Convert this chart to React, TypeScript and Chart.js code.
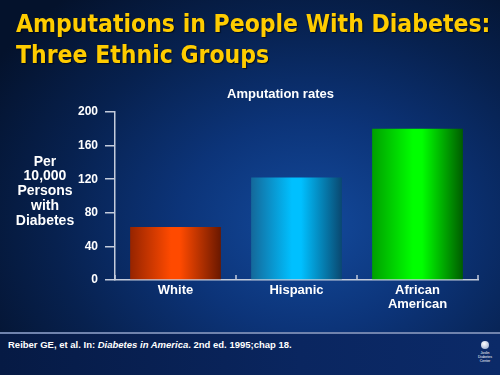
import React, { useEffect, useRef } from 'react';
import { Chart, registerables } from 'chart.js';

Chart.register(...registerables);

// ---- data ----
const categories: (string | string[])[] = ['White', 'Hispanic', ['African', 'American']];
const amputationRates = [63, 122, 180];
const yMin = 0;
const yMax = 200;
const yStep = 40;
const chartTitle = 'Amputation rates';
const slideTitle = ['Amputations in People With Diabetes:', 'Three Ethnic Groups'];
const yAxisTitle = ['Per', '10,000', 'Persons', 'with', 'Diabetes'];

// ---- styles ----
const barEdgeLeft = ['#962400', '#14689a', '#00a000'];
const barCenter = ['#ff4a00', '#00c0ff', '#00ff00'];
const barEdgeRight = ['#6a1800', '#0a4870', '#005c00'];
const axisColor = '#c4ccdc';
const FONT = '"Liberation Sans", Arial, sans-serif';

const gradientPlugin = {
  id: 'barGradient',
  beforeDatasetsDraw(chart: any) {
    const meta = chart.getDatasetMeta(0);
    const ctx = chart.ctx;
    meta.data.forEach((el: any, i: number) => {
      const w = el.width;
      const g = ctx.createLinearGradient(el.x - w / 2, 0, el.x + w / 2, 0);
      g.addColorStop(0, barEdgeLeft[i % 3]);
      g.addColorStop(0.45, barCenter[i % 3]);
      g.addColorStop(0.55, barCenter[i % 3]);
      g.addColorStop(1, barEdgeRight[i % 3]);
      el.options.backgroundColor = g;
    });
  },
};

const xTickPlugin = {
  id: 'xUpTicks',
  afterDraw(chart: any) {
    const { ctx, chartArea } = chart;
    const n = categories.length;
    ctx.save();
    ctx.strokeStyle = axisColor;
    ctx.lineWidth = 1.5;
    for (let i = 0; i <= n; i++) {
      const x = chartArea.left + (i * (chartArea.right - chartArea.left)) / n;
      ctx.beginPath();
      ctx.moveTo(x, chartArea.bottom - 5);
      ctx.lineTo(x, chartArea.bottom);
      ctx.stroke();
    }
    ctx.restore();
  },
};

function ChartCanvas() {
  const ref = useRef<HTMLCanvasElement | null>(null);
  useEffect(() => {
    if (!ref.current) return;
    const chart = new Chart(ref.current, {
      type: 'bar',
      data: {
        labels: categories as any,
        datasets: [
          {
            data: amputationRates,
            backgroundColor: barCenter,
            borderWidth: 0,
            barPercentage: 0.75,
            categoryPercentage: 1,
          },
        ],
      },
      plugins: [gradientPlugin, xTickPlugin],
      options: {
        responsive: false,
        animation: false,
        layout: { padding: { top: 112, right: 22, left: 0, bottom: 0 } },
        plugins: {
          legend: { display: false },
          tooltip: { enabled: false },
          title: { display: false },
        },
        scales: {
          x: {
            grid: { display: false, drawTicks: false, tickLength: 0 },
            border: { display: true, color: axisColor, width: 1.5 },
            ticks: {
              color: '#ffffff',
              padding: 3,
              font: { family: FONT, size: 13, weight: 'bold', lineHeight: 1.08 },
              maxRotation: 0,
            },
            afterFit(scale: any) {
              scale.height = 95;
            },
          },
          y: {
            min: yMin,
            max: yMax,
            ticks: {
              stepSize: yStep,
              color: '#ffffff',
              padding: 7,
              font: { family: FONT, size: 12, weight: 'bold' },
            },
            grid: {
              drawOnChartArea: false,
              drawTicks: true,
              tickLength: 10,
              color: axisColor,
              lineWidth: 1.5,
            },
            border: { display: true, color: axisColor, width: 1.5 },
            afterFit(scale: any) {
              scale.width = 115;
            },
          },
        },
      } as any,
    });
    return () => chart.destroy();
  }, []);
  return (
    <canvas
      ref={ref}
      width={500}
      height={375}
      style={{ position: 'absolute', left: 0, top: 0, width: 500, height: 375 }}
    />
  );
}

export default function App() {
  return (
    <div
      style={{
        position: 'fixed',
        left: 0,
        top: 0,
        width: 500,
        height: 375,
        overflow: 'hidden',
        background:
          'radial-gradient(ellipse 75% 80% at 62% 60%, #134a9c 0%, #0c3479 35%, #07214f 68%, #04122c 100%)',
        fontFamily: FONT,
      }}
    >
      <div
        style={{
          position: 'absolute',
          left: 16,
          top: 8,
          color: '#ffcc00',
          fontFamily: '"DejaVu Sans Condensed", "DejaVu Sans", sans-serif',
          fontStretch: 'condensed',
          fontWeight: 'bold',
          fontSize: 24.5,
          lineHeight: '31px',
          whiteSpace: 'nowrap',
          textShadow: '1px 1px 1px rgba(0,0,0,0.6)',
        }}
      >
        {slideTitle.map((t) => (
          <div key={t}>{t}</div>
        ))}
      </div>
      <div
        style={{
          position: 'absolute',
          left: 0,
          width: 90,
          top: 153.5,
          textAlign: 'center',
          color: '#ffffff',
          fontWeight: 'bold',
          fontSize: 14,
          lineHeight: '14.75px',
        }}
      >
        {yAxisTitle.map((t) => (
          <div key={t}>{t}</div>
        ))}
      </div>
      <div
        style={{
          position: 'absolute',
          left: 180,
          width: 201,
          top: 86,
          textAlign: 'center',
          color: '#ffffff',
          fontWeight: 'bold',
          fontSize: 13,
          lineHeight: '16px',
        }}
      >
        {chartTitle}
      </div>
      <ChartCanvas />
      <div
        style={{
          position: 'absolute',
          left: 0,
          top: 332,
          width: 500,
          height: 2,
          background: '#7083ad',
        }}
      />
      <div
        style={{
          position: 'absolute',
          left: 0,
          top: 334,
          width: 500,
          height: 41,
          background: 'linear-gradient(to right, #061a44, #0a2660 60%, #0b2a68)',
        }}
      />
      <div
        style={{
          position: 'absolute',
          left: 8,
          top: 338.5,
          color: '#ffffff',
          fontWeight: 'bold',
          fontSize: 9.5,
          lineHeight: '12px',
          whiteSpace: 'nowrap',
        }}
      >
        Reiber GE, et al. In: <i>Diabetes in America</i>. 2nd ed. 1995;chap 18.
      </div>
      <div
        style={{
          position: 'absolute',
          left: 472,
          top: 341,
          width: 26,
          textAlign: 'center',
          color: '#ffffff',
          fontSize: 3.5,
          lineHeight: '4.2px',
        }}
      >
        <div
          style={{
            width: 8,
            height: 8,
            borderRadius: 4,
            margin: '0 auto 2px',
            background: 'radial-gradient(circle at 40% 35%, #ffffff, #8aa0c8)',
          }}
        />
        <div>Joslin</div>
        <div>Diabetes</div>
        <div>Center</div>
      </div>
    </div>
  );
}
